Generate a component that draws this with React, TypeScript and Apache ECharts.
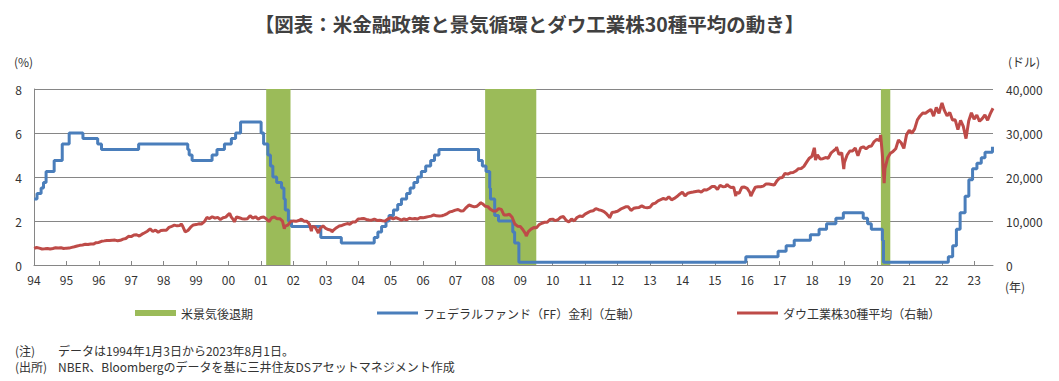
import React, { useEffect, useRef } from "react";
import * as echarts from "echarts";

// ---------- data ----------
const xTickYears = [1994, 1995, 1996, 1997, 1998, 1999, 2000, 2001, 2002, 2003, 2004, 2005, 2006, 2007, 2008, 2009, 2010, 2011, 2012, 2013, 2014, 2015, 2016, 2017, 2018, 2019, 2020, 2021, 2022, 2023];

const recessionStart = ["2001-03-01", "2007-12-01", "2020-02-15"];
const recessionEnd = ["2001-11-30", "2009-06-30", "2020-05-31"];

const ffDates = [
  "1994-01-03", "1994-02-04", "1994-03-22", "1994-04-18", "1994-05-17", "1994-08-16", "1994-11-15",
  "1995-02-01", "1995-07-06", "1995-12-19", "1996-01-31", "1997-03-25",
  "1998-09-29", "1998-10-15", "1998-11-17", "1999-06-30", "1999-08-24", "1999-11-16",
  "2000-02-02", "2000-03-21", "2000-05-16",
  "2001-01-03", "2001-01-31", "2001-03-20", "2001-04-18", "2001-05-15", "2001-06-27", "2001-08-21",
  "2001-09-17", "2001-10-02", "2001-11-06", "2001-12-11", "2002-11-06", "2003-06-25",
  "2004-06-30", "2004-08-10", "2004-09-21", "2004-11-10", "2004-12-14",
  "2005-02-02", "2005-03-22", "2005-05-03", "2005-06-30", "2005-08-09", "2005-09-20", "2005-11-01", "2005-12-13",
  "2006-01-31", "2006-03-28", "2006-05-10", "2006-06-29",
  "2007-09-18", "2007-10-31", "2007-12-11",
  "2008-01-22", "2008-01-30", "2008-03-18", "2008-04-30", "2008-10-08", "2008-10-29", "2008-12-16",
  "2015-12-16", "2016-12-14", "2017-03-15", "2017-06-14", "2017-12-13",
  "2018-03-21", "2018-06-13", "2018-09-26", "2018-12-19",
  "2019-07-31", "2019-09-18", "2019-10-30", "2020-03-03", "2020-03-15",
  "2022-03-16", "2022-05-04", "2022-06-15", "2022-07-27", "2022-09-21", "2022-11-02", "2022-12-14",
  "2023-02-01", "2023-03-22", "2023-05-03", "2023-07-26", "2023-08-01",
];
const ffRates = [
  3.0, 3.25, 3.5, 3.75, 4.25, 4.75, 5.5,
  6.0, 5.75, 5.5, 5.25, 5.5,
  5.25, 5.0, 4.75, 5.0, 5.25, 5.5,
  5.75, 6.0, 6.5,
  6.0, 5.5, 5.0, 4.5, 4.0, 3.75, 3.5,
  3.0, 2.5, 2.0, 1.75, 1.25, 1.0,
  1.25, 1.5, 1.75, 2.0, 2.25,
  2.5, 2.75, 3.0, 3.25, 3.5, 3.75, 4.0, 4.25,
  4.5, 4.75, 5.0, 5.25,
  4.75, 4.5, 4.25,
  3.5, 3.0, 2.25, 2.0, 1.5, 1.0, 0.125,
  0.375, 0.625, 0.875, 1.125, 1.375,
  1.625, 1.875, 2.125, 2.375,
  2.125, 1.875, 1.625, 1.125, 0.125,
  0.375, 0.875, 1.625, 2.375, 3.125, 3.875, 4.375,
  4.625, 4.875, 5.125, 5.375, 5.375,
];

// Dow month-end closes, Jan 1994 .. Jul 2023
const dowMonthly1994to2003 = [
  3978, 3832, 3636, 3682, 3758, 3625, 3765, 3913, 3843, 3908, 3739, 3834,
  3844, 4011, 4158, 4321, 4465, 4556, 4709, 4647, 4789, 4756, 5075, 5117,
  5395, 5486, 5587, 5569, 5643, 5655, 5529, 5616, 5882, 6029, 6522, 6448,
  6813, 6878, 6584, 7009, 7331, 7673, 8223, 7622, 7945, 7442, 7823, 7908,
  7907, 8546, 8800, 9063, 8900, 8952, 8883, 7539, 7843, 8592, 9117, 9181,
  9359, 9307, 9786, 10789, 10560, 10971, 10655, 10829, 10337, 10729, 10878, 11497,
  10941, 10128, 10922, 10734, 10522, 10448, 10522, 11215, 10651, 10971, 10415, 10788,
  10887, 10495, 9879, 10735, 10912, 10502, 10523, 9950, 8848, 9075, 9852, 10022,
  9920, 10106, 10404, 9946, 9925, 9243, 8737, 8664, 7592, 8397, 8896, 8342,
  8054, 7891, 7992, 8480, 8850, 8985, 9234, 9416, 9275, 9801, 9782, 10454,
];
const dowMonthly2004to2013 = [
  10488, 10584, 10358, 10226, 10188, 10435, 10140, 10174, 10080, 10027, 10428, 10783,
  10490, 10766, 10504, 10193, 10467, 10275, 10641, 10482, 10569, 10440, 10806, 10718,
  10865, 10993, 11109, 11367, 11168, 11150, 11186, 11381, 11679, 12081, 12222, 12463,
  12622, 12269, 12354, 13063, 13628, 13409, 13212, 13358, 13896, 13930, 13372, 13265,
  12650, 12266, 12263, 12820, 12638, 11350, 11378, 11544, 10851, 9325, 8829, 8776,
  8001, 7063, 7609, 8168, 8500, 8447, 9172, 9496, 9712, 9713, 10345, 10428,
  10067, 10325, 10857, 11009, 10137, 9774, 10466, 10015, 10788, 11118, 11006, 11578,
  11892, 12226, 12320, 12811, 12570, 12414, 12143, 11614, 10913, 11955, 12046, 12218,
  12633, 12952, 13212, 13214, 12393, 12880, 13009, 13091, 13437, 13096, 13026, 13104,
  13861, 14054, 14579, 14840, 15116, 14910, 15500, 14810, 15130, 15546, 16086, 16577,
];
const dowMonthly2014to2023 = [
  15699, 16322, 16458, 16581, 16717, 16827, 16563, 17098, 17043, 17391, 17828, 17823,
  17165, 18133, 17776, 17841, 18011, 17620, 17690, 16528, 16285, 17664, 17720, 17425,
  16466, 16517, 17685, 17774, 17787, 17930, 18432, 18401, 18308, 18142, 19124, 19763,
  19864, 20812, 20663, 20941, 21009, 21350, 21891, 21948, 22405, 23377, 24272, 24719,
  26149, 25029, 24103, 24163, 24416, 24271, 25415, 25965, 26458, 25116, 25538, 23327,
  24999, 25916, 25929, 26593, 24815, 26600, 26864, 26403, 26917, 27046, 28051, 28538,
  28256, 25409, 21917, 24346, 25383, 25813, 26428, 28430, 27782, 26502, 29639, 30606,
  29983, 30932, 32982, 33875, 34529, 34503, 34935, 35361, 33844, 35820, 34484, 36338,
  35132, 33893, 34678, 32977, 32990, 30775, 32845, 31510, 28726, 32733, 34590, 33147,
  34086, 32657, 33274, 34098, 32908, 34408, 35560,
];
// intra-month highs/lows visible in the daily line
const dowExtraDates = [
  "1994-01-03", "1994-04-04", "1998-07-17", "2000-01-14", "2000-03-07", "2001-09-21",
  "2002-07-23", "2002-10-09", "2003-03-11", "2007-10-09", "2009-03-09", "2010-07-02",
  "2011-10-03", "2015-05-19", "2015-08-25", "2016-02-11", "2018-01-26", "2018-02-08",
  "2018-10-03", "2018-12-24", "2020-02-12", "2020-03-23", "2021-12-29", "2022-01-04",
  "2023-08-01",
];
const dowExtraValues = [
  3756, 3594, 9338, 11723, 9796, 8236,
  7702, 7286, 7524, 14165, 6547, 9686,
  10655, 18312, 15666, 15660, 26617, 23860,
  26828, 21792, 29551, 18592, 36488, 36800,
  35630,
];

// ---------- helpers ----------
function toYear(d: string): number {
  const [y, m, dd] = d.split("-").map(Number);
  const s = Date.UTC(y, 0, 1);
  const e = Date.UTC(y + 1, 0, 1);
  return y + (Date.UTC(y, m - 1, dd) - s) / (e - s);
}

const FONT = "'Noto Sans CJK JP', 'Noto Sans', sans-serif";
const BLUE = "#4a7ebb";
const RED = "#be4b48";
const GREEN = "#9bbb59";
const TXT = "#333333";

export default function App() {
  const ref = useRef<HTMLDivElement>(null);

  useEffect(() => {
    if (!ref.current) return;
    const chart = echarts.init(ref.current, null, { renderer: "svg" });

    const ffData = ffDates.map((d, i) => [toYear(d), ffRates[i]]);

    const monthly = [...dowMonthly1994to2003, ...dowMonthly2004to2013, ...dowMonthly2014to2023];
    const dowPts: number[][] = monthly.map((v, i) => {
      const y = 1994 + Math.floor(i / 12);
      const m = i % 12;
      return [y + (m + 1) / 12 - 0.002, v];
    });
    dowExtraDates.forEach((d, i) => dowPts.push([toYear(d), dowExtraValues[i]]));
    dowPts.sort((a, b) => a[0] - b[0]);

    const recAreas = recessionStart.map((s, i) => [
      { xAxis: toYear(s) },
      { xAxis: toYear(recessionEnd[i]) },
    ]);

    const names = ["米景気後退期", "フェデラルファンド（FF）金利（左軸）", "ダウ工業株30種平均（右軸）"];
    const legendCommon = {
      top: 302,
      itemWidth: 41,
      itemGap: 0,
      textStyle: { fontSize: 12, color: TXT, fontFamily: FONT },
      selectedMode: false,
    };

    chart.setOption({
      animation: false,
      textStyle: { fontFamily: FONT },
      title: {
        text: "【図表：米金融政策と景気循環とダウ工業株30種平均の動き】",
        left: "center",
        top: 9,
        textStyle: { fontSize: 19.5, fontWeight: "bold", color: "#404040", fontFamily: FONT },
      },
      legend: [
        { ...legendCommon, left: 130, itemHeight: 6, data: [{ name: names[0], icon: "rect" }] },
        { ...legendCommon, left: 372, itemHeight: 3, data: [{ name: names[1], icon: "rect" }] },
        { ...legendCommon, left: 732, itemHeight: 3, data: [{ name: names[2], icon: "rect" }] },
      ],
      grid: { left: 34, right: 66, top: 89, bottom: 116 },
      xAxis: {
        type: "value",
        min: 1994,
        max: toYear("2023-08-01"),
        interval: 1,
        axisLine: { show: true, lineStyle: { color: "#868686" } },
        axisTick: {
          show: true,
          inside: true,
          length: 4,
          customValues: xTickYears,
          lineStyle: { color: "#868686" },
        },
        axisLabel: {
          customValues: xTickYears,
          fontSize: 12,
          color: TXT,
          margin: 8,
          formatter: (v: number) => String(Math.round(v) % 100).padStart(2, "0"),
        },
        splitLine: { show: false },
      },
      yAxis: [
        {
          type: "value",
          min: 0,
          max: 8,
          interval: 2,
          axisLine: { show: true, lineStyle: { color: "#868686" } },
          axisTick: { show: false },
          axisLabel: { fontSize: 12, color: TXT, margin: 12 },
          splitLine: { show: true, lineStyle: { color: "#868686", width: 1 } },
        },
        {
          type: "value",
          min: 0,
          max: 40000,
          interval: 10000,
          axisLine: { show: false },
          axisTick: { show: false },
          axisLabel: {
            fontSize: 12,
            color: TXT,
            margin: 13,
            formatter: (v: number) => v.toLocaleString("en-US"),
          },
          splitLine: { show: false },
        },
      ],
      graphic: [
        { type: "text", left: 14, top: 55, style: { text: "(%)", fontSize: 12, fill: TXT, fontFamily: FONT } },
        { type: "text", left: 1008, top: 55, style: { text: "(ドル)", fontSize: 12, fill: TXT, fontFamily: FONT } },
        { type: "text", left: 1005, top: 280, style: { text: "(年)", fontSize: 12, fill: TXT, fontFamily: FONT } },
        { type: "text", left: 15, top: 344, style: { text: "(注)", fontSize: 12, fill: TXT, fontFamily: FONT } },
        { type: "text", left: 58, top: 344, style: { text: "データは1994年1月3日から2023年8月1日。", fontSize: 12, fill: TXT, fontFamily: FONT } },
        { type: "text", left: 15, top: 360, style: { text: "(出所)", fontSize: 12, fill: TXT, fontFamily: FONT } },
        { type: "text", left: 58, top: 360, style: { text: "NBER、Bloombergのデータを基に三井住友DSアセットマネジメント作成", fontSize: 12, fill: TXT, fontFamily: FONT } },
      ],
      series: [
        {
          name: names[0],
          type: "bar",
          data: [],
          itemStyle: { color: GREEN },
          markArea: {
            silent: true,
            itemStyle: { color: GREEN, opacity: 1 },
            data: recAreas,
          },
          z: 1,
        },
        {
          name: names[1],
          type: "line",
          step: "end",
          data: ffData,
          yAxisIndex: 0,
          symbol: "none",
          color: BLUE,
          lineStyle: { color: BLUE, width: 3 },
          z: 3,
        },
        {
          name: names[2],
          type: "line",
          data: dowPts,
          yAxisIndex: 1,
          symbol: "none",
          color: RED,
          lineStyle: { color: RED, width: 3 },
          z: 4,
        },
      ],
    });

    return () => chart.dispose();
  }, []);

  return (
    <div
      ref={ref}
      style={{ position: "fixed", left: 0, top: 0, width: 1059, height: 381, background: "#fff" }}
    />
  );
}
